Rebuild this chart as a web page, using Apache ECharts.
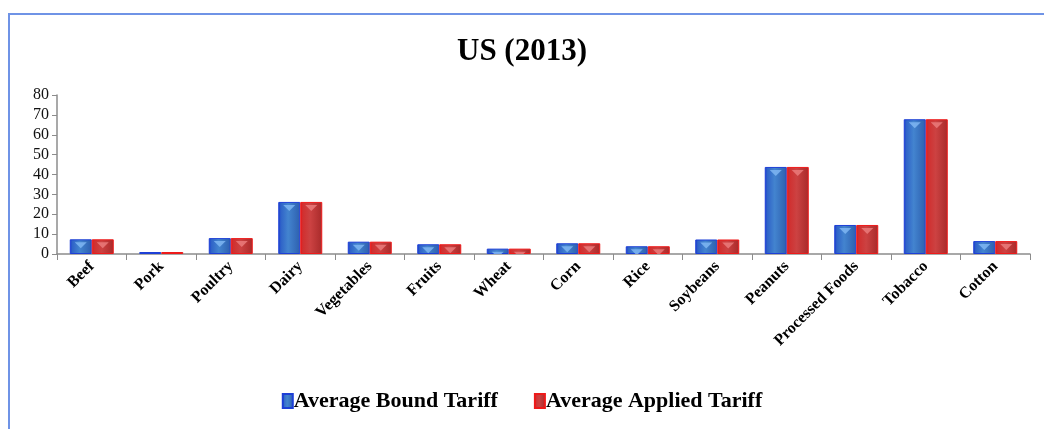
<!DOCTYPE html>
<html>
<head>
<meta charset="utf-8">
<script src="https://cdn.jsdelivr.net/npm/echarts@6/dist/echarts.min.js"></script>
<style>
  html, body { margin: 0; padding: 0; background: #fff; }
  #chart { width: 1044px; height: 429px; }
</style>
</head>
<body>
<div id="chart"></div>
<script>
// categories and values
const categories = ["Beef", "Pork", "Poultry", "Dairy", "Vegetables", "Fruits", "Wheat",
  "Corn", "Rice", "Soybeans", "Peanuts", "Processed Foods", "Tobacco", "Cotton"];
const boundTariff = [7.4, 1.0, 8.0, 26.2, 6.2, 4.9, 2.7, 5.4, 3.9, 7.3, 43.8, 14.6, 67.8, 6.5];
const appliedTariff = [7.4, 1.0, 8.0, 26.2, 6.2, 4.9, 2.7, 5.4, 3.9, 7.3, 43.8, 14.6, 67.8, 6.5];
const yTicks = [0, 10, 20, 30, 40, 50, 60, 70, 80];

const serif = "'Liberation Serif', 'DejaVu Serif', serif";

function grad(stops) {
  return new echarts.graphic.LinearGradient(0, 0, 1, 0, stops);
}
const blueFill = grad([
  { offset: 0, color: '#1a3ccc' },
  { offset: 0.12, color: '#2f63c8' },
  { offset: 0.45, color: '#4384cf' },
  { offset: 1, color: '#2d5fae' }
]);
const redFill = grad([
  { offset: 0, color: '#e81818' },
  { offset: 0.12, color: '#d03030' },
  { offset: 0.45, color: '#cc4242' },
  { offset: 1, color: '#a82a2a' }
]);

// little light triangle at the top of each bar
function shine(data, dx, color) {
  return {
    type: 'pictorialBar',
    data: data,
    symbol: 'triangle',
    symbolRotate: 180,
    symbolSize: [12, 6],
    symbolPosition: 'end',
    symbolOffset: [dx, 3],
    symbolClip: true,
    silent: true,
    z: 3,
    itemStyle: { color: color, opacity: 0.85 }
  };
}

let myChart = echarts.init(document.getElementById('chart'));
let option = {
  animation: false,
  backgroundColor: '#fff',
  graphic: [{
    type: 'rect',
    shape: { x: 9, y: 14, width: 1100, height: 500 },
    style: { fill: 'none', stroke: '#6f93e6', lineWidth: 2 }
  }],
  title: {
    text: 'US (2013)',
    left: 'center',
    top: 31,
    textStyle: { fontFamily: serif, fontWeight: 'bold', fontSize: 31, color: '#000' }
  },
  legend: {
    data: ['Average Bound Tariff', 'Average Applied Tariff'],
    bottom: 12,
    left: 'center',
    itemWidth: 10,
    itemHeight: 14,
    itemGap: 36,
    icon: 'rect',
    textStyle: { fontFamily: serif, fontWeight: 'bold', fontSize: 22, color: '#000', padding: [0, 0, 0, -4] }
  },
  grid: { left: 57, right: 14, top: 95, bottom: 175, containLabel: false },
  xAxis: {
    type: 'category',
    data: categories,
    axisLine: { lineStyle: { color: '#8c8c8c', width: 1.5 } },
    axisTick: { show: true, length: 6, lineStyle: { color: '#8c8c8c' } },
    axisLabel: {
      rotate: 45,
      interval: 0,
      margin: 10,
      fontFamily: serif,
      fontWeight: 'bold',
      fontSize: 16,
      color: '#000'
    }
  },
  yAxis: {
    type: 'value',
    min: yTicks[0],
    max: yTicks[yTicks.length - 1],
    interval: 10,
    splitLine: { show: false },
    axisLine: { show: true, lineStyle: { color: '#8c8c8c', width: 1.5 } },
    axisTick: { show: true, length: 5, lineStyle: { color: '#8c8c8c' } },
    axisLabel: { fontFamily: serif, fontSize: 16, color: '#111', margin: 8 }
  },
  series: [
    {
      name: 'Average Bound Tariff',
      type: 'bar',
      data: boundTariff,
      barWidth: 22,
      barGap: '0%',
      itemStyle: { color: blueFill, borderColor: '#1d3fd6', borderWidth: 1 }
    },
    {
      name: 'Average Applied Tariff',
      type: 'bar',
      data: appliedTariff,
      barWidth: 22,
      barGap: '0%',
      itemStyle: { color: redFill, borderColor: '#ee1a1a', borderWidth: 1 }
    },
    shine(boundTariff, -11, '#7fb6f2'),
    shine(appliedTariff, 11, '#ea7b7b')
  ]
};
myChart.setOption(option);
</script>
</body>
</html>
